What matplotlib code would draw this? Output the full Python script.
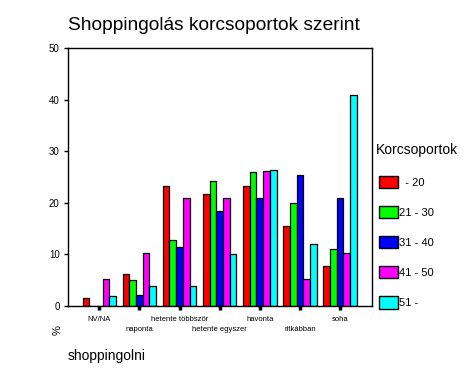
import numpy as np
import matplotlib.pyplot as plt
import matplotlib.patches as mpatches

plt.rcParams['font.family'] = ['Liberation Sans', 'DejaVu Sans']

categories = ["NV/NA", "naponta", "hetente többször", "hetente egyszer",
              "havonta", "ritkábban", "soha"]
groups = ["  - 20", "21 - 30", "31 - 40", "41 - 50", "51 -"]
colors = ["#ff0000", "#00ff00", "#0000ff", "#ff00ff", "#00ffff"]

age_20 = [1.5, 6.2, 23.3, 21.8, 23.3, 15.6, 7.8]
age_21_30 = [0.0, 5.0, 12.8, 24.2, 26.0, 20.0, 11.0]
age_31_40 = [0.0, 2.1, 11.4, 18.4, 21.0, 25.4, 21.0]
age_41_50 = [5.2, 10.3, 21.0, 21.0, 26.2, 5.2, 10.2]
age_51 = [2.0, 3.8, 3.8, 10.1, 26.4, 12.0, 40.8]
series = [age_20, age_21_30, age_31_40, age_41_50, age_51]

fig = plt.figure(figsize=(4.7, 3.77), dpi=100)
ax = fig.add_axes([0.1447, 0.188, 0.647, 0.685])

x = np.arange(len(categories))
w = 0.167
for i, (vals, c) in enumerate(zip(series, colors)):
    ax.bar(x + (i - 2) * w, vals, width=w, color=c, edgecolor='black', linewidth=0.9)

ax.set_xlim(-0.78, 6.8)
ax.set_ylim(0, 50)
ax.set_yticks([0, 10, 20, 30, 40, 50])
ax.tick_params(axis='y', labelsize=7, length=3, width=1, pad=3)
ax.set_xticks(x)
ax.set_xticklabels([])
ax.tick_params(axis='x', length=3, width=2.5, direction='out')
for s in ax.spines.values():
    s.set_linewidth(1)

# staggered category labels
for i, lab in enumerate(categories):
    off = -13 if i % 2 == 0 else -23
    ax.annotate(lab, (i, 0), xycoords='data', xytext=(0, off), textcoords='offset pixels',
                ha='center', va='center', fontsize=5.5, annotation_clip=False)

fig.text(68 / 470, 1 - 25 / 377, "Shoppingolás korcsoportok szerint", fontsize=13.8,
         ha='left', va='center')
fig.text(58 / 470, 1 - 330 / 377, "%", fontsize=8, rotation=90, ha='center', va='center')
fig.text(68 / 470, 1 - 356 / 377, "shoppingolni", fontsize=10, ha='left', va='center')
fig.text(376 / 470, 1 - 150 / 377, "Korcsoportok", fontsize=10, ha='left', va='center')

handles = [mpatches.Patch(facecolor=c, edgecolor='black', linewidth=1) for c in colors]
leg = fig.legend(handles, groups, loc='upper left', bbox_to_anchor=(379 / 470, 1 - 176 / 377),
                 frameon=False, fontsize=8, handlelength=1.7, handleheight=1.3,
                 labelspacing=1.62, handletextpad=0.1, borderpad=0, borderaxespad=0)

fig.savefig("out.png", dpi=100)
